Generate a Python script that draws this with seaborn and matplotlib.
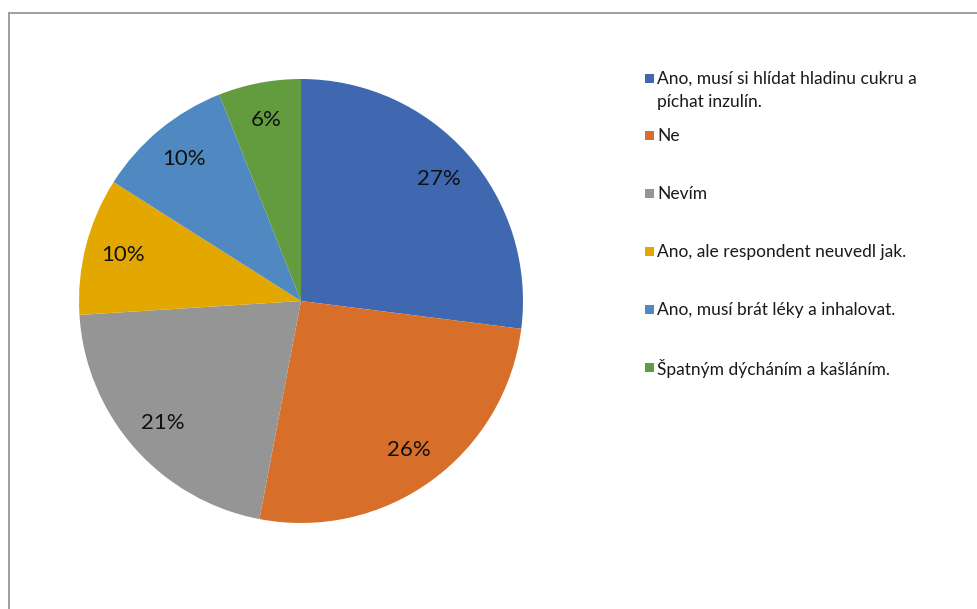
import matplotlib
matplotlib.use("Agg")
import matplotlib.pyplot as plt
from matplotlib.lines import Line2D
from matplotlib.patches import Rectangle
import seaborn as sns

# Answers and their shares (percent)
categories = [
    "Ano, musí si hlídat hladinu cukru a\npíchat inzulín.",
    "Ne",
    "Nevím",
    "Ano, ale respondent neuvedl jak.",
    "Ano, musí brát léky a inhalovat.",
    "Špatným dýcháním a kašláním.",
]
shares = [27, 26, 21, 10, 10, 6]
colors = ["#4068B0", "#D76F2A", "#959595", "#E3A800", "#5089C2", "#639C3F"]

sns.set_theme(style="white")
plt.rcParams["font.family"] = ["Lato", "DejaVu Sans"]

W, H = 977, 609
fig = plt.figure(figsize=(W / 100, H / 100), dpi=100)
fig.patch.set_facecolor("white")

# Pie axes: centre (301, 301) px, radius 222 px
cx, cy, r = 301, 301, 222
ax = fig.add_axes([(cx - r) / W, (H - cy - r) / H, 2 * r / W, 2 * r / H])
palette = sns.color_palette(colors)
wedges, texts, autotexts = ax.pie(
    shares,
    colors=palette,
    startangle=90,
    counterclock=False,
    autopct=lambda p: f"{p:.0f}%",
    pctdistance=0.83,
    radius=1.0,
    wedgeprops=dict(linewidth=0),
    textprops=dict(fontsize=16, color="#111111"),
)
ax.set_xlim(-1, 1)
ax.set_ylim(-1, 1)
ax.set_aspect("equal")
ax.axis("off")

# Legend drawn as colour squares with labels on the right
legend_rows = [78, 135, 193, 251, 309, 367]
line_step = 23
for lab, col, y in zip(categories, colors, legend_rows):
    fig.add_artist(Rectangle((645 / W, (H - y - 4.5) / H), 9 / W, 9 / H,
                             transform=fig.transFigure, facecolor=col,
                             edgecolor="none"))
    for i, part in enumerate(lab.split("\n")):
        fig.text(657 / W, (H - y - 1 - i * line_step) / H, part, fontsize=12.5,
                 color="#1a1a1a", ha="left", va="center")

# Chart area frame (left and top edges visible)
fig.add_artist(Line2D([8.5 / W, 8.5 / W], [0, (H - 12.5) / H],
                      transform=fig.transFigure, color="#8f8f8f", lw=1.2))
fig.add_artist(Line2D([8.5 / W, 1.0], [(H - 12.5) / H, (H - 12.5) / H],
                      transform=fig.transFigure, color="#8f8f8f", lw=1.2))

fig.savefig("out.png", dpi=100, facecolor="white")
